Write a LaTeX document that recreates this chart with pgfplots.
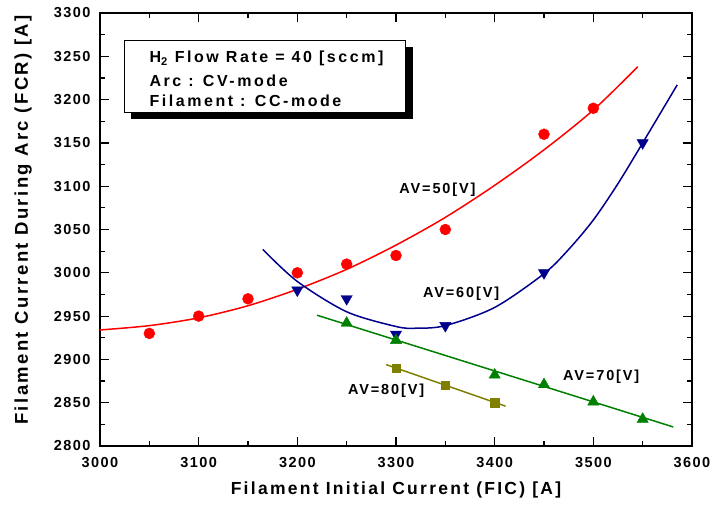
\documentclass[border=0pt]{standalone}
\usepackage{fontspec}
\setmainfont{Liberation Sans}[LetterSpace=10]
\usepackage{pgfplots}
\pgfplotsset{compat=1.18}
\definecolor{avred}{RGB}{255,0,0}
\definecolor{avblue}{RGB}{0,0,140}
\definecolor{avgreen}{RGB}{0,128,0}
\definecolor{avolive}{RGB}{128,128,0}
\begin{document}
\begin{tikzpicture}
\useasboundingbox (-100pt,-61pt) rectangle (614pt,446pt);
\begin{axis}[
  at={(0,0)}, anchor=south west,
  scale only axis, width=592pt, height=433pt,
  xmin=3000, xmax=3600, ymin=2800, ymax=3300,
  xtick={3000,3100,...,3600}, ytick={2800,2850,...,3300},
  minor x tick num=1, minor y tick num=1,
  tick align=inside,
  major tick length=9pt, minor tick length=5pt,
  axis line style={line width=1.8pt},
  every tick/.style={black, line width=1.2pt},
  /pgf/number format/assume math mode=true,
  /pgf/number format/1000 sep={},
  ticklabel style={font=\fontsize{14.5}{16}\selectfont\bfseries},
  xticklabel style={yshift=-8pt},
  yticklabel style={xshift=-6pt},
  xlabel={Filament Initial Current (FIC) [A]},
  ylabel={Filament Current During Arc (FCR) [A]},
  every axis x label/.style={at={(axis description cs:0.5,-0.102)}, anchor=center, font=\fontsize{17.5}{20}\selectfont\bfseries\addfontfeatures{LetterSpace=13}},
  every axis y label/.style={at={(axis description cs:-0.130,0.522)}, rotate=90, anchor=center, font=\fontsize{18.5}{20}\selectfont\bfseries\addfontfeatures{LetterSpace=13}},
  clip=false,
]
% fit curves
\addplot[avred, line width=1.5pt, smooth, no markers] coordinates {
(3000,2934) (3050,2939) (3100,2948) (3150,2962) (3200,2981) (3250,3004) (3300,3032) (3350,3064) (3400,3101) (3450,3142) (3500,3188) (3545,3238)};
\addplot[avblue, line width=1.5pt, smooth, no markers] coordinates {
(3165,3027) (3200,2990) (3250,2955) (3300,2938) (3320,2936) (3350,2939) (3400,2960) (3450,2999) (3475,3027) (3500,3061) (3525,3103) (3550,3150) (3585,3217)};
\addplot[avgreen, line width=1.5pt, no markers] coordinates {(3220,2951) (3581,2822)};
\addplot[avolive, line width=1.5pt, no markers] coordinates {(3290,2894) (3411,2846)};
% data
\addplot[only marks, mark=*, mark size=5.5pt, color=avred, mark options={fill=avred, draw=none}] coordinates {
(3050,2930) (3100,2950) (3150,2970) (3200,3000) (3250,3010) (3300,3020) (3350,3050) (3450,3160) (3500,3190)};
\addplot[only marks, mark=triangle*, mark size=6.5pt, color=avblue, mark options={fill=avblue, draw=none, rotate=180}] coordinates {
(3200,2980) (3250,2970) (3300,2929) (3350,2939) (3450,3000) (3550,3150)};
\addplot[only marks, mark=triangle*, mark size=6.5pt, color=avgreen, mark options={fill=avgreen, draw=none}] coordinates {
(3250,2942) (3300,2922) (3400,2882) (3450,2871) (3500,2851) (3550,2831)};
\addplot[only marks, mark=square*, mark size=4.2pt, color=avolive, mark options={fill=avolive, draw=none}] coordinates {
(3300,2890) (3350,2870) (3400,2850)};
% labels
\node[font=\fontsize{14.5}{16}\selectfont\bfseries\addfontfeatures{LetterSpace=13}] at (axis cs:3342,3096) {AV=50[V]};
\node[font=\fontsize{14.5}{16}\selectfont\bfseries\addfontfeatures{LetterSpace=13}] at (axis cs:3366,2976) {AV=60[V]};
\node[font=\fontsize{14.5}{16}\selectfont\bfseries\addfontfeatures{LetterSpace=13}] at (axis cs:3508,2880) {AV=70[V]};
\node[font=\fontsize{14.5}{16}\selectfont\bfseries\addfontfeatures{LetterSpace=13}] at (axis cs:3290,2864) {AV=80[V]};
% info box
\fill[black] ([xshift=7pt,yshift=-7pt]axis cs:3024.3,3268.8) rectangle ([xshift=7pt,yshift=-7pt]axis cs:3309.7,3185.7);
\filldraw[fill=white, draw=black, line width=0.6pt] (axis cs:3024.3,3268.8) rectangle (axis cs:3309.7,3185.7);
\node[anchor=base west, inner sep=0pt, font=\fontsize{16}{18}\selectfont\bfseries\addfontfeatures{LetterSpace=16}] at (axis cs:3050,3242.6) {H\textsubscript{2} Flow Rate = 40 [sccm]};
\node[anchor=base west, inner sep=0pt, font=\fontsize{16}{18}\selectfont\bfseries\addfontfeatures{LetterSpace=16}] at (axis cs:3050,3215.7) {Arc : CV-mode};
\node[anchor=base west, inner sep=0pt, font=\fontsize{16}{18}\selectfont\bfseries\addfontfeatures{LetterSpace=16}] at (axis cs:3050,3191.8) {Filament : CC-mode};
\end{axis}
\end{tikzpicture}
\end{document}
